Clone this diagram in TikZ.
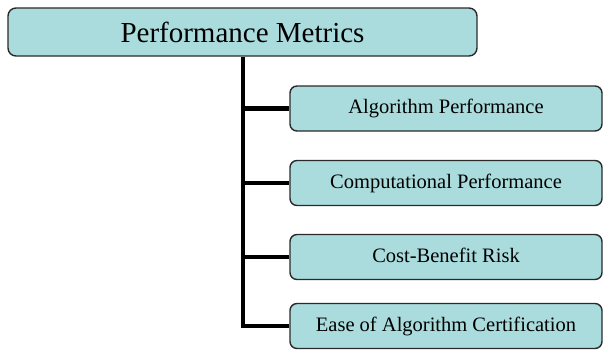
\documentclass[tikz,border=0pt]{standalone}
\usepackage{fontspec}
\setmainfont{Liberation Serif}
\definecolor{boxfill}{HTML}{AADCDD}
\definecolor{boxline}{HTML}{2A2A2A}
\newcommand{\uptext}[1]{\raisebox{3pt}{#1}}
\begin{document}
\begin{tikzpicture}[x=1pt,y=-1pt,
  topbox/.style={draw=boxline,fill=boxfill,line width=1.4pt,rounded corners=8pt,
    minimum width=469pt,minimum height=48pt,inner sep=0pt,font=\fontsize{29}{32}\selectfont},
  subbox/.style={draw=boxline,fill=boxfill,line width=1.4pt,rounded corners=7pt,
    minimum width=312pt,minimum height=45pt,inner sep=0pt,font=\fontsize{20.5}{24}\selectfont},
  conn/.style={line width=4.5pt,black}]
\useasboundingbox (0,0) rectangle (603,349);
\node[topbox] (top) at (242.5,32) {Performance Metrics};
\node[subbox] (a) at (446,108.5) {\uptext{Algorithm Performance}};
\node[subbox] (b) at (446,183) {\uptext{Computational Performance}};
\node[subbox] (c) at (446,257) {\uptext{Cost-Benefit Risk}};
\node[subbox] (d) at (446,326) {\uptext{Ease of Algorithm Certification}};
\coordinate (bend) at (243,326);
\draw[conn] (top.south -| bend) -- (bend) -- (d.west);
\draw[conn] (bend |- a.west) -- (a.west);
\draw[conn] (bend |- b.west) -- (b.west);
\draw[conn] (bend |- c.west) -- (c.west);
\end{tikzpicture}
\end{document}
